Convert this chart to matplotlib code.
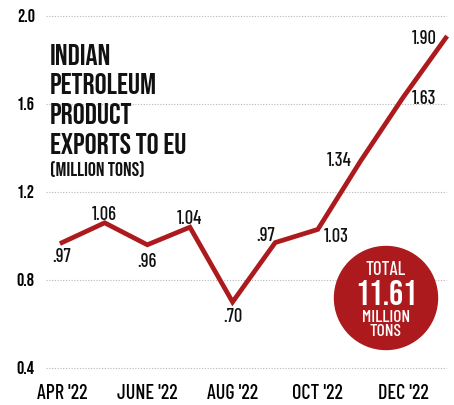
import matplotlib.pyplot as plt
from matplotlib.patches import Circle

# monthly exports, million tons
months = ["APR '22", "MAY '22", "JUNE '22", "JUL '22", "AUG '22", "SEP '22",
          "OCT '22", "NOV '22", "DEC '22", "JAN '23"]
values = [0.97, 1.06, 0.96, 1.04, 0.70, 0.97, 1.03, 1.34, 1.63, 1.90]
labels = [".97", "1.06", ".96", "1.04", ".70", ".97", "1.03", "1.34", "1.63", "1.90"]
yticks = [0.4, 0.8, 1.2, 1.6, 2.0]
ytick_labels = ["0.4", "0.8", "1.2", "1.6", "2.0"]
total = "11.61"

RED = "#AD1A1D"
HEAVY = ["Bebas Neue", "DejaVu Sans"]
LIGHT = ["Barlow Condensed", "DejaVu Sans"]
plt.rcParams["font.family"] = LIGHT

fig = plt.figure(figsize=(4.54, 4.05), dpi=100)
W, H = 454, 405
ax = fig.add_axes([46 / W, (H - 372.4) / H, 401 / W, 360.8 / H])

x = list(range(len(values)))
ax.plot(x, values, color=RED, lw=3.4, solid_joinstyle="miter", clip_on=False, zorder=3)

ax.set_xlim(-0.376, 9.03)
ax.set_ylim(0.38, 2.02)
ax.set_yticks(yticks)
ax.set_yticklabels(ytick_labels, fontsize=13, family=HEAVY, ha="left")
ax.tick_params(axis="y", length=0, pad=21)
xt = x[::2]
ax.set_xticks(xt)
ax.set_xticklabels([months[i] for i in xt], fontsize=14.5, fontweight=500)
ax.tick_params(axis="x", length=0, pad=8)
ax.grid(axis="y", linestyle=(0, (1, 1.5)), color="#b5b5b5", lw=0.8)
for s in ax.spines.values():
    s.set_visible(False)

# point labels: offsets in points
offs = [(0, -8.6, "center"), (-0.5, 6.7, "center"), (0, -11, "center"), (0, 7, "center"),
        (0, -9.3, "center"), (-6.5, 6.5, "center"), (4, -4, "left"), (-6, 1.5, "right"),
        (6.5, 0, "left"), (-6.5, 1, "right")]
for i, (v, lab) in enumerate(zip(values, labels)):
    dx, dy, ha = offs[i]
    ax.annotate(lab, (i, v), xytext=(dx, dy), textcoords="offset points",
                ha=ha, va="center_baseline", fontsize=13.4, fontweight=500,
                color="#111111")

# title block
title = ["INDIAN", "PETROLEUM", "PRODUCT", "EXPORTS TO EU"]
baselines = [65, 94.5, 124, 153.5]
for line, b in zip(title, baselines):
    fig.text(50 / W, 1 - b / H, line, fontsize=21.6, family=HEAVY,
             va="baseline", ha="left", color="#111111")
fig.text(50 / W, 1 - 176 / H, "(MILLION TONS)", fontsize=14.4, family=HEAVY,
         va="baseline", ha="left", color="#111111")

# total badge
fig.add_artist(Circle((386 / 100, (H - 298) / 100), 0.515, transform=fig.dpi_scale_trans,
                      color=RED, zorder=5))
fig.text(386 / W, 1 - 275 / H, "TOTAL", fontsize=13.4, fontweight=500, color="white",
         ha="center", va="baseline", zorder=6)
fig.text(386 / W, 1 - 305 / H, total, fontsize=25, family=HEAVY, color="white",
         ha="center", va="baseline", zorder=6)
fig.text(386 / W, 1 - 321.7 / H, "MILLION", fontsize=12.6, fontweight=500, color="white",
         ha="center", va="baseline", zorder=6)
fig.text(386 / W, 1 - 336.5 / H, "TONS", fontsize=12.6, fontweight=500, color="white",
         ha="center", va="baseline", zorder=6)

fig.savefig("out.png", dpi=100, facecolor="white")
